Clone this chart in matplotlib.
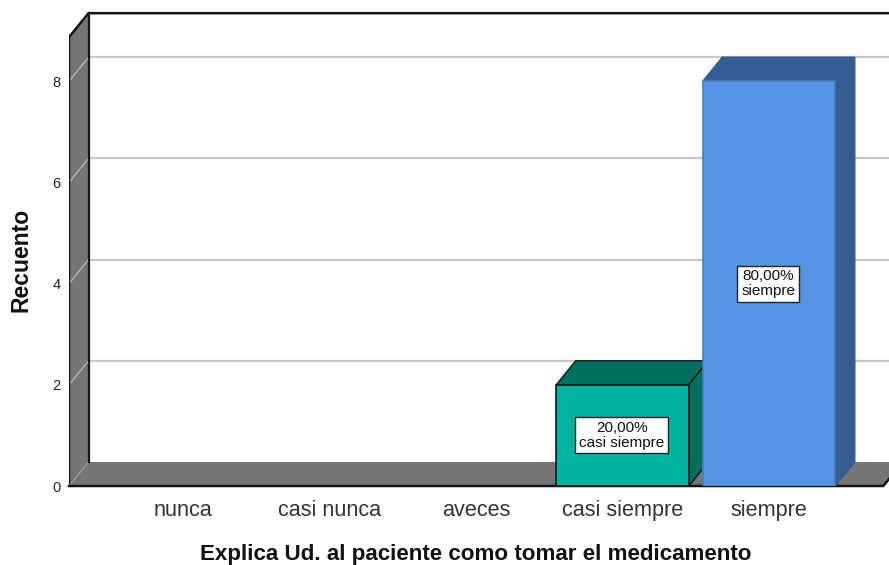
import matplotlib
matplotlib.use('Agg')
import matplotlib.pyplot as plt
from matplotlib.patches import Polygon

plt.rcParams['font.family'] = ['Liberation Sans', 'DejaVu Sans']

categorias = ['nunca', 'casi nunca', 'aveces', 'casi siempre', 'siempre']
recuento = [0, 0, 0, 2, 8]
etiquetas = ['', '', '', '20,00%\ncasi siempre', '80,00%\nsiempre']
colores = [None, None, None, '#00B3A0', '#5595E6']
oscuros = [None, None, None, '#006F5F', '#345D92']
bordes = [None, None, None, '#0A1A18', '#4A7CBE']
marcas_y = [0, 2, 4, 6, 8]

fig = plt.figure(figsize=(8.89, 5.65), dpi=100)
W, H = 889, 565
# zona frontal del grafico, y=0 en 486 px
ax = fig.add_axes([69 / W, (H - 486) / H, (W - 69) / W, 486 / H])
ax.set_xlim(-0.778, 4.819)
ax.set_ylim(0, 486 / 50.6)
for s in ax.spines.values():
    s.set_visible(False)

dx = 19.5 / 146.5   # profundidad 3D
dy = 24 / 50.6
x0 = -0.778
x1 = 4.78
techo = 8.87
ancho = 0.905
negro = '#151515'

# suelo y pared izquierda
ax.add_patch(Polygon([(x0, 0), (x0 + dx, dy), (x1 + dx, dy), (x1, 0)],
                     fc='#757575', ec='none', zorder=1))
ax.add_patch(Polygon([(x0, 0), (x0 + dx, dy), (x0 + dx, techo + dy), (x0, techo)],
                     fc='#757575', ec='none', zorder=1))

# lineas de rejilla en el fondo
for v in marcas_y[1:]:
    ax.plot([x0 + dx, 4.9], [v + dy, v + dy], color='#C8C8C8', lw=1.6, zorder=2,
            solid_capstyle='butt')
    ax.plot([x0, x0 + dx], [v, v + dy], color='#B5B5B5', lw=1.0, zorder=2)
ax.plot([x0, x0 + dx], [0, dy], color='#A0A0A0', lw=0.8, zorder=2)

# contornos negros
ax.plot([x0, x0, x0 + dx, 4.9], [0, techo, techo + dy, techo + dy], color=negro, lw=1.8, zorder=3,
        solid_joinstyle='miter')
ax.plot([x0 + dx, x0 + dx], [dy, techo + dy], color=negro, lw=1.6, zorder=3)
ax.plot([x0, x1, x1 + dx], [0, 0, dy], color=negro, lw=1.8, zorder=3, clip_on=False)

# barras
for i, v in enumerate(recuento):
    if v == 0:
        continue
    izq = i - ancho / 2
    der = i + ancho / 2
    z = 4 + i
    ax.add_patch(Polygon([(izq, v), (izq + dx, v + dy), (der + dx, v + dy), (der, v)],
                         fc=oscuros[i], ec=bordes[i] if i == 3 else oscuros[i], lw=1.0, zorder=z))
    ax.add_patch(Polygon([(der, 0), (der + dx, dy), (der + dx, v + dy), (der, v)],
                         fc=oscuros[i], ec=bordes[i] if i == 3 else oscuros[i], lw=1.0, zorder=z))
    ax.bar(i, v, width=ancho, color=colores[i], edgecolor=bordes[i], linewidth=1.2,
           zorder=z + 0.1)
    ax.text(i - 0.005, v / 2, etiquetas[i], ha='center', va='center', fontsize=11,
            linespacing=1.05, color='#111111', zorder=z + 0.2,
            bbox=dict(boxstyle='square,pad=0.25', fc='white', ec='#222222', lw=1.0))

ax.set_xticks(range(len(categorias)))
ax.set_xticklabels(categorias, fontsize=15.6, color='#333333')
ax.set_yticks(marcas_y)
ax.tick_params(axis='x', length=0, pad=10)
ax.tick_params(axis='y', length=0, pad=6, labelsize=10.5, labelcolor='#222222')

fig.text(475.5 / W, 1 - 554.5 / H, 'Explica Ud. al paciente como tomar el medicamento',
         ha='center', va='center', fontsize=16.1, fontweight='bold', color='#111111')
fig.text(21.5 / W, 1 - 260 / H, 'Recuento', rotation=90, ha='center', va='center',
         fontsize=16.5, fontweight='bold', color='#111111')

fig.savefig('out.png', dpi=100)
